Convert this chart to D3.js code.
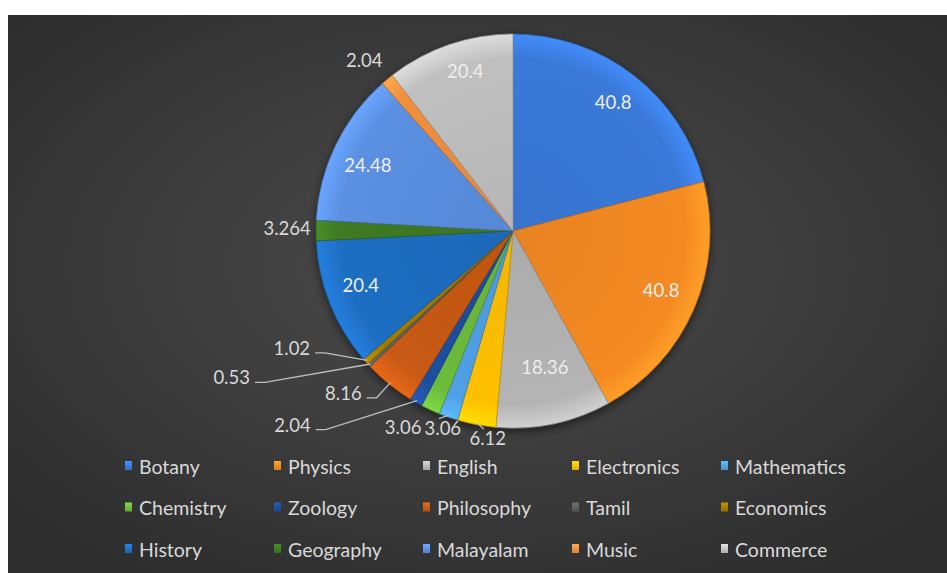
<!DOCTYPE html>
<html>
<head>
<meta charset="utf-8">
<script src="https://d3js.org/d3.v7.min.js"></script>
<style>
  body { margin: 0; background: #fff; }
  .lbl { font: 18.5px Lato, sans-serif; fill: #eeeeee; }
  .out { fill: #d9d9d9; }
  .leg text { font: 19.5px Lato, sans-serif; fill: #d9d9d9; }
  .leader { fill: none; stroke: #bfbfbf; stroke-width: 1.3; }
</style>
</head>
<body>
<svg width="947" height="573"></svg>
<script>
// data
var subjects = ["Botany", "Physics", "English", "Electronics", "Mathematics",
                "Chemistry", "Zoology", "Philosophy", "Tamil", "Economics",
                "History", "Geography", "Malayalam", "Music", "Commerce"];
var values = [40.8, 40.8, 18.36, 6.12, 3.06,
              3.06, 2.04, 8.16, 0.53, 1.02,
              20.4, 3.264, 24.48, 2.04, 20.4];
var colors = ["#3a79d9", "#f58a23", "#b4b4b4", "#ffc000", "#4fa0e6",
              "#6cbb3c", "#1f4ea0", "#c85a12", "#5e5e5e", "#a27b00",
              "#1f6ec2", "#3f7a22", "#5b90e2", "#f0903e", "#c0c0c0"];

// label placement: [angle offset from slice middle (deg), radius factor, leader]
var labelPos = [[0, 0.83, ""], [-1.4, 0.81, ""], [-1.2, 0.71, ""], [-3.7, 1.06, "top"], [0.5, 1.06, "top"],
                [4.5, 1.14, ""], [19.2, 1.49, "side"], [7.4, 1.19, "side"], [15.5, 1.61, "side"], [13.7, 1.27, "side"],
                [2.2, 0.82, ""], [0.6, 1.147, ""], [-1.3, 0.81, ""], [-1.4, 1.15, ""], [2.3, 0.85, ""]];

var svg = d3.select("svg"),
    width = +svg.attr("width"),
    height = +svg.attr("height"),
    cx = 513, cy = 231, radius = 197;

var defs = svg.append("defs");

var bg = defs.append("radialGradient").attr("id", "bg")
    .attr("cx", "50%").attr("cy", "45%").attr("r", "65%");
bg.append("stop").attr("offset", "0%").attr("stop-color", "#4c4c4c");
bg.append("stop").attr("offset", "100%").attr("stop-color", "#2e2e2e");

var shadow = defs.append("filter").attr("id", "shadow")
    .attr("x", "-20%").attr("y", "-20%").attr("width", "140%").attr("height", "140%");
shadow.append("feDropShadow").attr("dx", 0).attr("dy", 3)
    .attr("stdDeviation", 5).attr("flood-color", "#000").attr("flood-opacity", 0.55);

colors.forEach(function (c, i) {
    var gr = defs.append("radialGradient").attr("id", "slice" + i)
        .attr("gradientUnits", "userSpaceOnUse")
        .attr("cx", 0).attr("cy", 0).attr("r", radius);
    gr.append("stop").attr("offset", "0%").attr("stop-color", d3.color(c).darker(0.15));
    gr.append("stop").attr("offset", "88%").attr("stop-color", c);
    gr.append("stop").attr("offset", "100%").attr("stop-color", d3.color(c).brighter(0.4));

    var lg = defs.append("linearGradient").attr("id", "key" + i)
        .attr("x1", 0).attr("y1", 0).attr("x2", 0).attr("y2", 1);
    lg.append("stop").attr("offset", "0%").attr("stop-color", d3.color(c).brighter(0.5));
    lg.append("stop").attr("offset", "100%").attr("stop-color", d3.color(c).darker(0.3));
});

svg.append("rect")
    .attr("x", 8).attr("y", 15)
    .attr("width", width - 8).attr("height", height - 15)
    .attr("fill", "url(#bg)");

var data = subjects.map(function (s, i) { return { name: s, value: values[i], i: i }; });

var pie = d3.pie().sort(null).value(function (d) { return d.value; });
var arcs = pie(data);

var path = d3.arc().innerRadius(0).outerRadius(radius);

var g = svg.append("g").attr("transform", "translate(" + cx + "," + cy + ")");

g.append("g").attr("filter", "url(#shadow)")
    .selectAll("path")
    .data(arcs)
    .enter().append("path")
    .attr("d", path)
    .attr("fill", function (d) { return "url(#slice" + d.data.i + ")"; })
    .attr("stroke", function (d) { return d3.color(colors[d.data.i]).darker(0.7); })
    .attr("stroke-width", 0.7);

function polar(a, r) { return [Math.sin(a) * r, -Math.cos(a) * r]; }

var labels = g.selectAll(".lbl")
    .data(arcs)
    .enter().append("text")
    .attr("class", function (d) { return labelPos[d.data.i][1] > 1 ? "lbl out" : "lbl"; })
    .attr("text-anchor", "middle")
    .attr("dominant-baseline", "central")
    .each(function (d) {
        var lp = labelPos[d.data.i];
        var a = (d.startAngle + d.endAngle) / 2 + lp[0] * Math.PI / 180;
        var p = polar(a, radius * lp[1]);
        d.lx = p[0]; d.ly = p[1];
    })
    .attr("x", function (d) { return d.lx; })
    .attr("y", function (d) { return d.ly; })
    .text(function (d) { return String(d.data.value); });

// leader lines
labels.each(function (d) {
    var kind = labelPos[d.data.i][2];
    if (!kind) return;
    var hw = this.getComputedTextLength() / 2;
    var rim = polar((d.startAngle + d.endAngle) / 2, radius - 2);
    var pts;
    if (kind === "side") {
        var right = d.lx + hw;
        pts = [rim, [right + 15, d.ly + 5], [right + 5, d.ly + 5]];
    } else {
        pts = [rim, [d.lx - 4, d.ly - 9]];
    }
    g.insert("path", ".lbl")
        .attr("class", "leader")
        .attr("d", d3.line()(pts));
});

// legend
var cols = 5, colW = 149, rowH = 41.5, legX = 128, legY = 466;
var leg = svg.append("g").attr("class", "leg")
    .selectAll("g")
    .data(data)
    .enter().append("g")
    .attr("transform", function (d) {
        return "translate(" + (legX + (d.i % cols) * colW) + "," + (legY + Math.floor(d.i / cols) * rowH) + ")";
    });

leg.append("rect")
    .attr("x", -3).attr("y", -5)
    .attr("width", 7).attr("height", 9)
    .attr("fill", function (d) { return "url(#key" + d.i + ")"; });

leg.append("text")
    .attr("x", 11)
    .attr("dominant-baseline", "central")
    .text(function (d) { return d.name; });
</script>
</body>
</html>
